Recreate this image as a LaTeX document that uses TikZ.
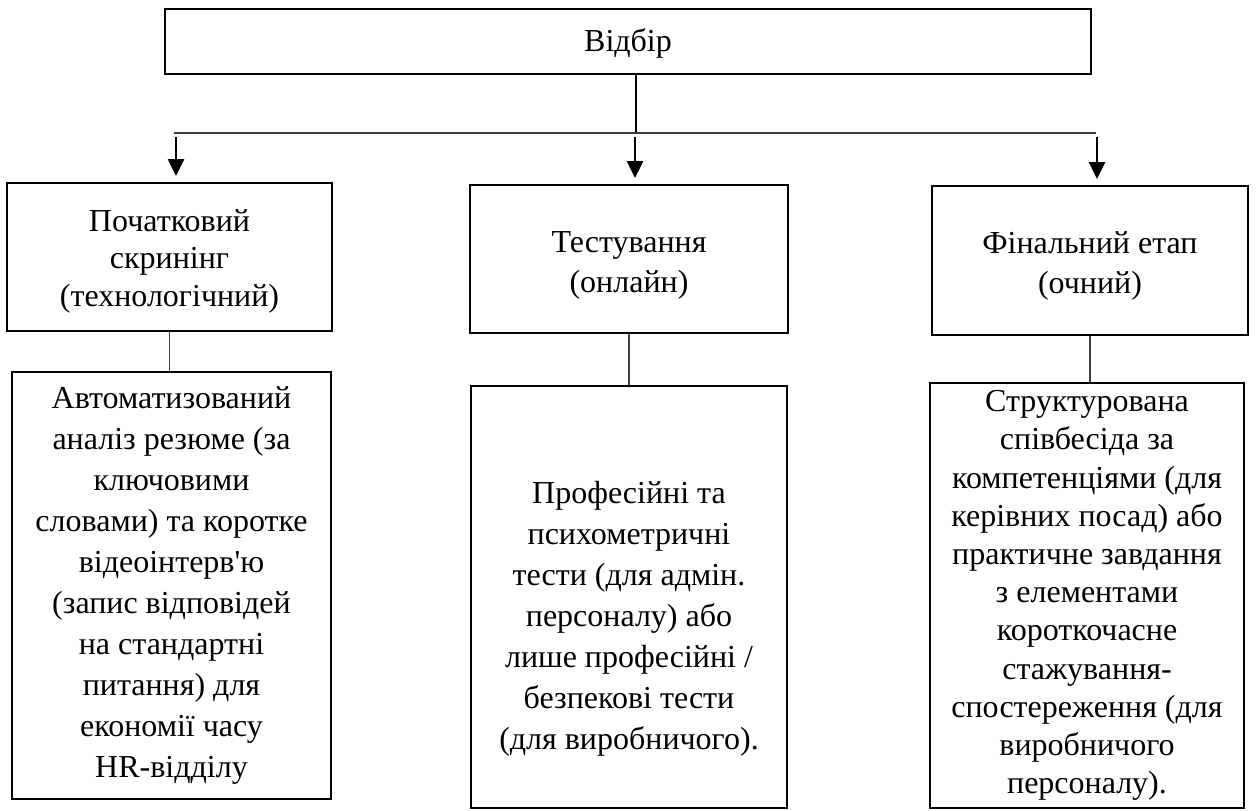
\documentclass[tikz,border=0pt]{standalone}
\usepackage{fontspec}
\setmainfont{Liberation Serif}
\usetikzlibrary{arrows.meta,calc}

\begin{document}
\begin{tikzpicture}[x=0.5pt, y=-0.5pt,
  box/.style={draw, line width=1pt, inner sep=0pt},
  txt/.style={align=center, inner sep=0pt, font=\fontsize{16}{20.5}\selectfont},
  link/.style={draw=black!75, line width=0.6pt},
  down/.style={-{Triangle[width=8pt,length=8.5pt]}, line width=1.3pt, shorten >=3pt}
]
\useasboundingbox (0,0) rectangle (1256,810);
% top box
\node[box, minimum width=463pt, minimum height=32.5pt] (top) at (628,41.5) {};
\node[txt, yshift=-1pt] (t0) at (top.center) {Відбір};
% stage boxes
\node[box, minimum width=162.5pt, minimum height=74pt] (b1) at (169.5,257) {};
\node[box, minimum width=159pt, minimum height=74pt] (b2) at (629,259) {};
\node[box, minimum width=158pt, minimum height=74.5pt] (b3) at (1090,260.5) {};
\node[txt, font=\fontsize{16}{18.75}\selectfont, yshift=-2pt] (t1) at (b1.center) {Початковий\\скринінг\\(технологічний)};
\node[txt, font=\fontsize{16}{20}\selectfont, yshift=-3pt] (t2) at (b2.center) {Тестування\\(онлайн)};
\node[txt, font=\fontsize{16}{20}\selectfont, yshift=-2.5pt] (t3) at (b3.center) {Фінальний етап\\(очний)};
% detail boxes
\node[box, minimum width=159.5pt, minimum height=213.5pt] (b4) at (171.5,585.5) {};
\node[box, minimum width=158pt, minimum height=211pt] (b5) at (629,597) {};
\node[box, minimum width=157pt, minimum height=212.5pt] (b6) at (1087,595.5) {};
\node[txt] (t4) at (b4.center) {Автоматизований\\аналіз резюме (за\\ключовими\\словами) та коротке\\відеоінтерв\textquotesingle ю\\(запис відповідей\\на стандартні\\питання) для\\економії часу\\HR-відділу};
\node[txt, yshift=-11pt] (t5) at (b5.center) {Професійні та\\психометричні\\тести (для адмін.\\персоналу) або\\лише професійні /\\безпекові тести\\(для виробничого).};
\node[txt, font=\fontsize{16}{19.1}\selectfont] (t6) at (b6.center) {Структурована\\співбесіда за\\компетенціями (для\\керівних посад) або\\практичне завдання\\з елементами\\короткочасне\\стажування-\\спостереження (для\\виробничого\\персоналу).};

% branching line
\coordinate (h1) at (174,133);
\coordinate (hm) at (636,133);
\coordinate (h2) at (1096,133);
\draw[line width=0.8pt] (top.south -| hm) -- (hm);
\draw[link, line width=0.8pt] (h1) -- (h2);
\foreach \x/\b in {176/b1, 635/b2, 1097/b3} {
  \coordinate (a\b) at (\x,137);
  \draw[down] (a\b) -- (a\b |- \b.north);
}
\draw[link] (b1.south) -- (b1.south |- b4.north);
\draw[link] (b2.south) -- (b2.south |- b5.north);
\draw[link] (b3.south) -- (b3.south |- b6.north);
\end{tikzpicture}
\end{document}
